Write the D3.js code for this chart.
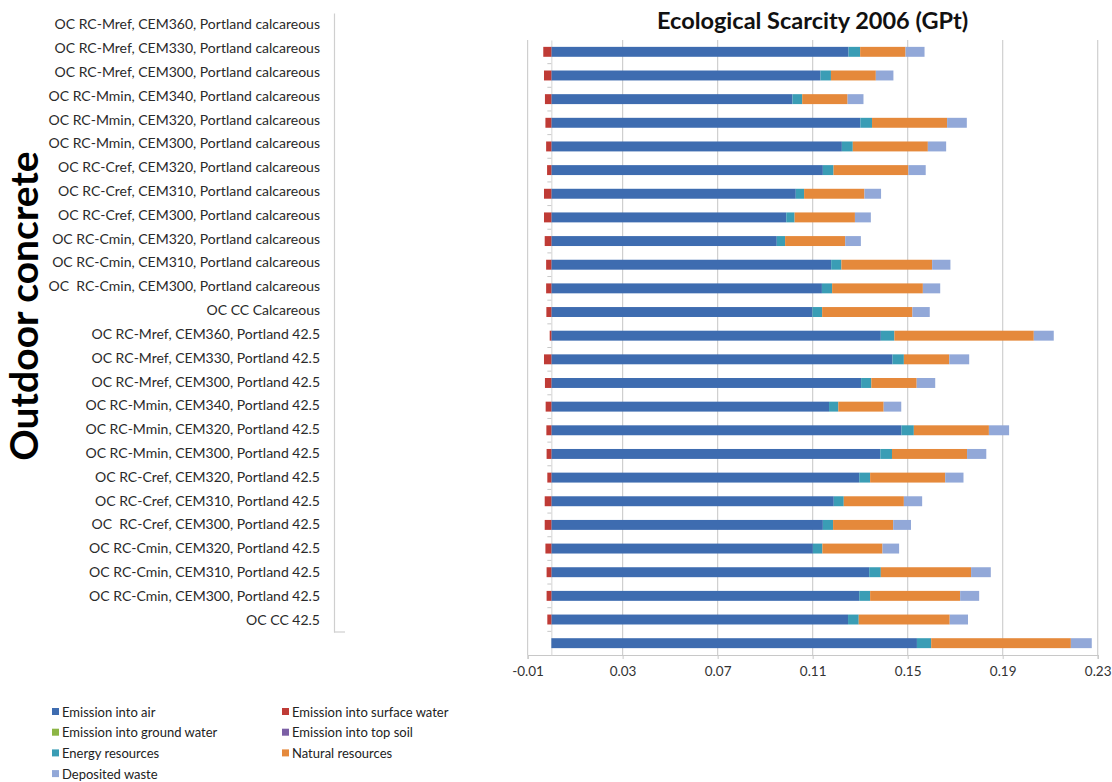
<!DOCTYPE html>
<html>
<head>
<meta charset="utf-8">
<script src="https://cdn.jsdelivr.net/npm/d3@7"></script>
<style>
  body { margin: 0; background: #fff; }
  text { font-family: Lato, "Open Sans", sans-serif; }
</style>
</head>
<body>
<svg id="chart" width="1112" height="782"></svg>
<script>
// Mixes of outdoor concrete (top to bottom)
const categories = [
  "OC RC-Mref, CEM360, Portland calcareous",
  "OC RC-Mref, CEM330, Portland calcareous",
  "OC RC-Mref, CEM300, Portland calcareous",
  "OC RC-Mmin, CEM340, Portland calcareous",
  "OC RC-Mmin, CEM320, Portland calcareous",
  "OC RC-Mmin, CEM300, Portland calcareous",
  "OC RC-Cref, CEM320, Portland calcareous",
  "OC RC-Cref, CEM310, Portland calcareous",
  "OC RC-Cref, CEM300, Portland calcareous",
  "OC RC-Cmin, CEM320, Portland calcareous",
  "OC RC-Cmin, CEM310, Portland calcareous",
  "OC  RC-Cmin, CEM300, Portland calcareous",
  "OC CC Calcareous",
  "OC RC-Mref, CEM360, Portland 42.5",
  "OC RC-Mref, CEM330, Portland 42.5",
  "OC RC-Mref, CEM300, Portland 42.5",
  "OC RC-Mmin, CEM340, Portland 42.5",
  "OC RC-Mmin, CEM320, Portland 42.5",
  "OC RC-Mmin, CEM300, Portland 42.5",
  "OC RC-Cref, CEM320, Portland 42.5",
  "OC RC-Cref, CEM310, Portland 42.5",
  "OC  RC-Cref, CEM300, Portland 42.5",
  "OC RC-Cmin, CEM320, Portland 42.5",
  "OC RC-Cmin, CEM310, Portland 42.5",
  "OC RC-Cmin, CEM300, Portland 42.5",
  "OC CC 42.5"
];

// Ecological Scarcity 2006 scores (GPt) per impact group
const emissionAir = [
  0.1251, 0.1133, 0.1015, 0.1301, 0.1223, 0.1143, 0.1029, 0.0989, 0.0949,
  0.1178, 0.1139, 0.1099, 0.1387, 0.1436, 0.1304, 0.1169, 0.1474, 0.1385,
  0.1296, 0.1189, 0.1143, 0.1101, 0.1338, 0.1296, 0.1249, 0.1539
];
const emissionSurfaceWater = [
  -0.0034, -0.0031, -0.0027, -0.0025, -0.0022, -0.0018, -0.0031, -0.0031, -0.0028,
  -0.0022, -0.0022, -0.0021, -0.0007, -0.0031, -0.0027, -0.0024, -0.0021, -0.0020,
  -0.0017, -0.0028, -0.0028, -0.0025, -0.0020, -0.0020, -0.0017, 0
];
const emissionGroundWater = [
  0, 0, 0, 0, 0, 0, 0, 0, 0, 0, 0, 0, 0,
  0, 0, 0, 0, 0, 0, 0, 0, 0, 0, 0, 0, 0
];
const emissionTopSoil = [
  0, 0, 0, 0, 0, 0, 0, 0, 0, 0, 0, 0, 0,
  0, 0, 0, 0, 0, 0, 0, 0, 0, 0, 0, 0, 0
];
const energyResources = [
  0.0049, 0.0044, 0.0041, 0.0049, 0.0046, 0.0045, 0.0035, 0.0035, 0.0035,
  0.0043, 0.0043, 0.0041, 0.0057, 0.0048, 0.0043, 0.0039, 0.0052, 0.0049,
  0.0046, 0.0042, 0.0043, 0.0040, 0.0049, 0.0046, 0.0045, 0.0060
];
const naturalResources = [
  0.0191, 0.0189, 0.0191, 0.0316, 0.0316, 0.0315, 0.0254, 0.0254, 0.0253,
  0.0382, 0.0382, 0.0380, 0.0587, 0.0191, 0.0191, 0.0191, 0.0316, 0.0316,
  0.0316, 0.0253, 0.0253, 0.0253, 0.0380, 0.0379, 0.0383, 0.0588
];
const depositedWaste = [
  0.0080, 0.0074, 0.0067, 0.0083, 0.0077, 0.0073, 0.0070, 0.0067, 0.0066,
  0.0077, 0.0073, 0.0073, 0.0084, 0.0084, 0.0078, 0.0074, 0.0085, 0.0081,
  0.0077, 0.0077, 0.0075, 0.0070, 0.0083, 0.0080, 0.0077, 0.0088
];

const seriesNames = [
  "Emission into air", "Emission into surface water", "Emission into ground water",
  "Emission into top soil", "Energy resources", "Natural resources", "Deposited waste"
];
const seriesValues = [
  emissionAir, emissionSurfaceWater, emissionGroundWater,
  emissionTopSoil, energyResources, naturalResources, depositedWaste
];
const seriesColors = ["#3e6cb0", "#bf3b36", "#8cb545", "#7b5fa5", "#3a9db5", "#e5893b", "#92a8d8"];

const xTicks = [-0.01, 0.03, 0.07, 0.11, 0.15, 0.19, 0.23];
const chartTitle = "Ecological Scarcity 2006 (GPt)";
const groupTitle = "Outdoor concrete";

// Legend layout: two columns, filled column by column
const legendColumns = [
  ["Emission into air", "Emission into ground water", "Energy resources", "Deposited waste"],
  ["Emission into surface water", "Emission into top soil", "Natural resources"]
];

const svg = d3.select("#chart");

// Table for the stack layout
const rows = categories.map((c, i) => {
  const r = { category: c };
  seriesNames.forEach((s, j) => { r[s] = seriesValues[j][i]; });
  return r;
});
const stacked = d3.stack().keys(seriesNames).offset(d3.stackOffsetDiverging)(rows);

// Scales
const x = d3.scaleLinear().domain([-0.01, 0.23]).range([527.6, 1097.7]);
const y = d3.scaleBand().domain(categories).range([40, 655]).paddingInner(0.58).paddingOuter(0.29);
const yLabels = d3.scaleBand().domain(categories).range([13, 632]);
const color = d3.scaleOrdinal().domain(seriesNames).range(seriesColors);

// Title
svg.append("text")
  .attr("x", (x.range()[0] + x.range()[1]) / 2)
  .attr("y", 29)
  .attr("text-anchor", "middle")
  .style("font-size", "23.5px")
  .style("font-weight", "700")
  .attr("fill", "#111")
  .text(chartTitle);

// Vertical gridlines (plot border on both ends)
svg.append("g")
  .selectAll("line")
  .data(xTicks)
  .join("line")
  .attr("x1", d => x(d)).attr("x2", d => x(d))
  .attr("y1", 40).attr("y2", 655)
  .attr("stroke", "#cfcfcf")
  .attr("stroke-width", 1.2);

// Horizontal value axis
const xAxis = svg.append("g")
  .attr("transform", "translate(0,655)")
  .call(d3.axisBottom(x).tickValues(xTicks).tickSize(4).tickPadding(7)
    .tickFormat(d3.format(".2f")));
xAxis.select(".domain").attr("stroke", "#c8c8c8").attr("stroke-width", 1.2);
xAxis.selectAll(".tick line").attr("stroke", "#c8c8c8");
xAxis.selectAll(".tick text")
  .style("font-size", "13.5px")
  .attr("fill", "#333");
xAxis.selectAll(".tick text").text(d => d3.format(".2f")(d).replace("−", "-"));

// Category axis at zero
const yAxis = svg.append("g")
  .attr("transform", `translate(${x(0)},0)`)
  .call(d3.axisLeft(y).tickValues([]).tickSizeOuter(0));
yAxis.select(".domain").attr("stroke", "#d4d4d4");
yAxis.selectAll(".sep")
  .data(categories.slice(1))
  .join("line")
  .attr("class", "sep")
  .attr("x1", -4).attr("x2", 0)
  .attr("y1", d => y(d) - y.step() * y.paddingInner() / 2)
  .attr("y2", d => y(d) - y.step() * y.paddingInner() / 2)
  .attr("stroke", "#c8c8c8");

// Stacked bars
svg.append("g")
  .selectAll("g")
  .data(stacked)
  .join("g")
  .attr("fill", d => color(d.key))
  .selectAll("rect")
  .data(d => d)
  .join("rect")
  .attr("x", d => x(Math.min(d[0], d[1])))
  .attr("width", d => Math.abs(x(d[1]) - x(d[0])))
  .attr("y", d => y(d.data.category))
  .attr("height", y.bandwidth());

// Category labels panel
const labelAxis = svg.append("g")
  .attr("transform", "translate(334,0)")
  .call(d3.axisLeft(yLabels).tickSize(0).tickPadding(14).tickSizeOuter(0));
labelAxis.select(".domain").attr("stroke", "#cfcfcf").attr("stroke-width", 1.2);
labelAxis.selectAll(".tick text")
  .style("font-size", "14px")
  .style("white-space", "pre")
  .attr("fill", "#2a2a2a");
labelAxis.append("line")
  .attr("x1", 0).attr("x2", 11)
  .attr("y1", yLabels.range()[1]).attr("y2", yLabels.range()[1])
  .attr("stroke", "#cfcfcf").attr("stroke-width", 1.2);

// Group title
svg.append("text")
  .attr("transform", "translate(38,306) rotate(-90)")
  .attr("text-anchor", "middle")
  .style("font-size", "39px")
  .style("font-weight", "700")
  .attr("fill", "#000")
  .text(groupTitle);

// Legend
const legendX = [52, 282];
const legendY0 = 712, legendDy = 20.7;
legendColumns.forEach((col, ci) => {
  const g = svg.append("g");
  const items = g.selectAll("g").data(col).join("g")
    .attr("transform", (d, i) => `translate(${legendX[ci]},${legendY0 + i * legendDy})`);
  items.append("rect")
    .attr("x", 0).attr("y", -4).attr("width", 7).attr("height", 7)
    .attr("fill", d => color(d));
  items.append("text")
    .attr("x", 10).attr("y", 0).attr("dy", "0.35em")
    .style("font-size", "13px")
    .attr("fill", "#222")
    .text(d => d);
});
</script>
</body>
</html>
